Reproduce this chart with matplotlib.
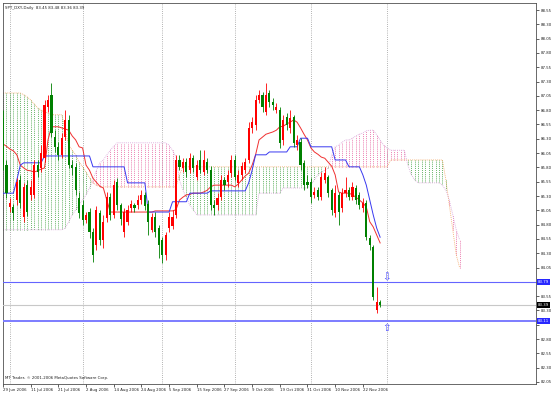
import numpy as np
import pandas as pd
import matplotlib
matplotlib.use("Agg")
from matplotlib import pyplot as plt

# Chart header and footer text
symbol = "SPT_DXY,Daily"
lastBar = "83.45 83.48 83.36 83.39"
copyrightText = "MT Trader, \u00a9 2001-2006 MetaQuotes Software Corp."
startDate = "2006-06-29"
arrowDate = "2006-12-01"

# Daily candles
opens = [86.66, 85.84, 85.11, 85.11, 85.23, 85.58, 84.93, 85.49, 85.32, 85.32,
         85.84, 85.79, 85.96, 86.86, 87.07, 86.33, 86.16, 86.02, 86.33, 86.63,
         85.84, 85.81, 85.27, 85.14, 84.88, 85.02, 84.67, 84.44, 85.00, 84.53,
         84.92, 85.28, 84.97, 85.54, 85.14, 84.67, 84.85, 85.09, 85.14, 85.14,
         85.23, 85.32, 85.16, 84.71, 84.93, 84.74, 84.53, 84.27, 84.74, 84.78,
         84.97, 85.93, 85.79, 85.89, 85.75, 85.96, 85.63, 85.93, 85.72, 85.89,
         85.75, 85.14, 85.14, 85.28, 85.58, 85.54, 85.70, 85.93, 85.53, 85.67,
         85.75, 85.93, 86.49, 86.54, 86.98, 87.07, 86.77, 87.10, 86.94, 86.80,
         86.80, 86.28, 86.68, 86.49, 86.68, 86.19, 86.24, 85.88, 85.54, 85.54,
         85.32, 85.40, 85.28, 85.58, 85.63, 85.40, 85.00, 85.32, 85.09, 85.35,
         85.40, 85.28, 85.44, 85.32, 85.09, 85.18, 84.57, 84.41, 83.31, 83.45]
highs = [86.80, 85.93, 85.27, 85.16, 85.62, 85.67, 85.53, 85.58, 85.58, 85.93,
         85.93, 86.19, 86.98, 87.07, 87.27, 86.45, 86.24, 86.40, 86.80, 86.72,
         85.93, 85.88, 85.37, 85.23, 85.02, 85.09, 84.74, 85.13, 85.06, 84.97,
         85.37, 85.35, 85.58, 85.62, 85.18, 85.09, 85.14, 85.23, 85.18, 85.32,
         85.40, 85.37, 85.23, 85.00, 85.02, 84.79, 84.58, 84.67, 85.02, 85.06,
         86.02, 86.02, 85.96, 85.96, 86.05, 86.02, 85.93, 86.10, 86.10, 85.96,
         85.82, 85.23, 85.35, 85.67, 85.63, 85.75, 86.02, 86.02, 85.75, 85.89,
         85.96, 86.59, 86.68, 87.07, 87.15, 87.12, 87.27, 87.15, 87.01, 86.93,
         86.86, 86.72, 86.75, 86.80, 86.72, 86.37, 86.31, 85.93, 85.67, 85.62,
         85.46, 85.46, 85.72, 85.81, 85.67, 85.44, 85.49, 85.37, 85.44, 85.63,
         85.46, 85.54, 85.49, 85.37, 85.27, 85.23, 84.62, 84.44, 83.71, 83.48]
lows = [85.75, 85.27, 85.02, 84.88, 85.14, 85.09, 84.85, 84.95, 85.23, 85.27,
        85.63, 85.72, 85.89, 86.77, 86.33, 86.07, 85.93, 85.96, 86.28, 85.79,
        85.67, 85.32, 84.92, 84.79, 84.83, 84.57, 84.15, 84.36, 84.44, 84.39,
        84.85, 84.88, 84.92, 85.06, 84.79, 84.58, 84.79, 85.02, 85.02, 85.07,
        85.16, 85.06, 84.62, 84.67, 84.58, 84.22, 84.13, 84.18, 84.67, 84.72,
        84.92, 85.75, 85.72, 85.63, 85.70, 85.72, 85.58, 85.70, 85.67, 85.70,
        85.06, 84.97, 85.06, 85.23, 85.40, 85.46, 85.63, 85.58, 85.46, 85.58,
        85.70, 85.88, 86.40, 86.45, 86.93, 86.77, 86.72, 86.86, 86.80, 86.75,
        86.14, 86.19, 86.45, 86.40, 86.16, 86.10, 85.75, 85.40, 85.44, 85.18,
        85.27, 85.23, 85.23, 85.53, 85.28, 84.97, 84.93, 84.79, 85.02, 85.28,
        85.23, 85.23, 85.16, 85.07, 85.02, 84.53, 84.36, 83.48, 83.26, 83.36]
closes = [85.84, 85.35, 85.18, 85.00, 85.54, 85.18, 85.46, 85.02, 85.46, 85.84,
          85.72, 86.05, 86.89, 86.98, 86.40, 86.16, 86.02, 86.31, 86.63, 85.84,
          85.79, 85.40, 85.00, 84.88, 84.97, 84.67, 84.27, 85.06, 84.53, 84.85,
          85.28, 84.97, 85.49, 85.14, 84.90, 85.02, 85.06, 85.16, 85.09, 85.23,
          85.32, 85.13, 84.85, 84.93, 84.67, 84.44, 84.27, 84.62, 84.93, 84.93,
          85.93, 85.81, 85.89, 85.72, 85.96, 85.79, 85.84, 85.75, 85.93, 85.75,
          85.14, 85.09, 85.27, 85.58, 85.49, 85.67, 85.93, 85.63, 85.67, 85.82,
          85.89, 86.49, 86.59, 86.98, 87.07, 86.86, 87.07, 86.94, 86.89, 86.86,
          86.23, 86.63, 86.54, 86.66, 86.23, 86.28, 85.84, 85.49, 85.49, 85.28,
          85.37, 85.28, 85.63, 85.70, 85.35, 85.06, 85.35, 85.02, 85.35, 85.40,
          85.28, 85.46, 85.23, 85.14, 85.18, 84.59, 84.44, 83.54, 83.45, 83.39]

# Ichimoku lines
tenkan = [86.21, 86.17, 86.12, 86.09, 86.02, 85.84, 85.79, 85.75, 85.74, 85.72,
          85.74, 85.77, 85.79, 86.28, 86.51, 86.51, 86.51, 86.49, 86.47, 86.45,
          86.35, 86.28, 86.16, 86.14, 85.84, 85.75, 85.61, 85.54, 85.47, 85.44,
          85.23, 85.02, 85.02, 85.02, 85.02, 85.02, 85.02, 85.02, 85.02, 85.02,
          85.02, 85.02, 85.02, 85.02, 85.04, 85.04, 85.04, 85.04, 85.04, 85.04,
          85.06, 85.23, 85.28, 85.32, 85.33, 85.35, 85.35, 85.35, 85.37, 85.40,
          85.46, 85.49, 85.49, 85.49, 85.49, 85.49, 85.49, 85.46, 85.51, 85.58,
          85.65, 85.70, 85.84, 86.02, 86.28, 86.33, 86.38, 86.40, 86.42, 86.45,
          86.51, 86.52, 86.56, 86.59, 86.63, 86.59, 86.49, 86.38, 86.28, 86.14,
          86.07, 86.03, 85.98, 85.96, 85.89, 85.82, 85.67, 85.37, 85.35, 85.35,
          85.35, 85.32, 85.28, 85.23, 85.18, 85.11, 84.85, 84.76, 84.62, 84.48]
kijun = [85.35, 85.35, 85.35, 85.35, 85.58, 85.84, 85.88, 85.88, 85.88, 85.88,
         85.88, 85.88, 86.00, 86.00, 86.00, 86.00, 86.00, 86.00, 86.00, 86.00,
         86.00, 86.00, 86.00, 86.00, 86.00, 86.00, 85.81, 85.81, 85.81, 85.81,
         85.81, 85.81, 85.81, 85.81, 85.81, 85.81, 85.53, 85.53, 85.53, 85.53,
         85.53, 85.53, 85.02, 85.02, 85.02, 85.02, 85.02, 85.02, 85.02, 85.20,
         85.20, 85.20, 85.20, 85.20, 85.35, 85.35, 85.35, 85.35, 85.35, 85.35,
         85.39, 85.39, 85.39, 85.39, 85.39, 85.39, 85.39, 85.39, 85.39, 85.39,
         85.39, 85.53, 85.75, 86.02, 86.02, 86.02, 86.02, 86.07, 86.07, 86.07,
         86.07, 86.07, 86.07, 86.16, 86.16, 86.16, 86.31, 86.31, 86.31, 86.16,
         86.16, 86.16, 86.16, 86.16, 86.16, 86.16, 85.93, 85.93, 85.93, 85.93,
         85.81, 85.81, 85.81, 85.81, 85.67, 85.49, 85.23, 84.97, 84.74, 84.58]
spanA = [87.10, 87.10, 87.10, 87.10, 87.10, 87.10, 87.07, 87.03, 86.98, 86.91,
         86.84, 86.80, 86.77, 86.75, 86.72, 86.72, 86.72, 86.72, 86.45, 86.19,
         86.10, 86.02, 85.89, 85.81, 85.72, 85.62, 85.53, 85.49, 85.46, 85.46,
         85.46, 85.46, 85.46, 85.46, 85.46, 85.46, 85.46, 85.46, 85.46, 85.46,
         85.46, 85.46, 85.46, 85.46, 85.46, 85.46, 85.46, 85.46, 85.46, 85.46,
         85.46, 85.67, 85.81, 85.81, 85.81, 85.81, 85.81, 85.81, 85.81, 85.81,
         85.81, 85.81, 85.81, 85.81, 85.81, 85.81, 85.81, 85.81, 85.81, 85.81,
         85.81, 85.81, 85.81, 85.81, 85.81, 85.81, 85.81, 85.81, 85.81, 85.81,
         85.81, 85.81, 85.81, 85.81, 85.81, 85.81, 85.81, 85.81, 85.81, 85.81,
         85.81, 85.81, 85.81, 85.81, 85.81, 85.81, 85.81, 85.81, 85.81, 85.81,
         85.81, 85.81, 85.81, 85.81, 85.81, 85.81, 85.81, 85.81, 85.81, 85.81,
         85.81, 85.81, 85.93, 85.93, 85.93, 85.93, 85.93, 85.93, 85.93, 85.93,
         85.93, 85.93, 85.93, 85.93, 85.93, 85.93, 85.93, 85.93, 85.58, 85.14,
         84.71, 84.27, 84.04]
spanB = [84.71, 84.71, 84.71, 84.71, 84.71, 84.71, 84.71, 84.71, 84.71, 84.71,
         84.71, 84.71, 84.71, 84.71, 84.71, 84.71, 84.71, 84.71, 84.74, 84.85,
         84.97, 85.06, 85.14, 85.23, 85.32, 85.44, 85.58, 85.75, 85.88, 85.93,
         86.02, 86.10, 86.17, 86.23, 86.23, 86.23, 86.23, 86.23, 86.23, 86.23,
         86.23, 86.23, 86.23, 86.23, 86.23, 86.23, 86.23, 86.23, 86.19, 86.10,
         85.98, 85.58, 85.40, 85.27, 85.14, 85.06, 84.97, 84.97, 84.97, 84.97,
         84.97, 84.97, 84.97, 84.97, 84.97, 84.97, 84.97, 84.97, 84.97, 84.97,
         84.97, 84.97, 84.97, 84.97, 85.35, 85.35, 85.35, 85.35, 85.35, 85.35,
         85.35, 85.44, 85.44, 85.44, 85.44, 85.44, 85.44, 85.44, 85.44, 85.49,
         85.58, 85.67, 85.72, 85.75, 85.79, 86.02, 86.16, 86.19, 86.24, 86.28,
         86.28, 86.31, 86.35, 86.38, 86.40, 86.44, 86.45, 86.45, 86.37, 86.28,
         86.19, 86.14, 86.10, 86.10, 86.10, 86.10, 86.10, 85.84, 85.67, 85.58,
         85.53, 85.53, 85.53, 85.53, 85.53, 85.53, 85.53, 85.49, 85.40, 85.23,
         84.97, 84.71, 84.53]

# Horizontal price levels and current bid
levels = [83.79, 83.11]
bid = 83.39

dates = pd.bdate_range(startDate, periods=len(spanA))
x = np.arange(len(opens))
xc = np.arange(len(spanA))
arrowIdx = int(np.where(dates == pd.Timestamp(arrowDate))[0][0])

fig = plt.figure(figsize=(5.53, 3.93), dpi=100)
ax = fig.add_axes([3 / 553, 9 / 393, 533 / 553, 381 / 393])
ax.set_xlim(0, 533 / 3.46)
ax.set_ylim(82.015, 88.673)

# Month separators (only up to the arrow bar, like the terminal)
monthStarts = np.where(np.diff(dates.month) != 0)[0] + 1
for m in monthStarts[monthStarts <= arrowIdx]:
    ax.axvline(m, color="#9a9a9a", linestyle=(0, (1, 1.6)), linewidth=0.6, zorder=1)

# Kumo cloud drawn as dotted histogram
cloudA = np.array(spanA)
cloudB = np.array(spanB)
cloudColors = np.where(cloudA >= cloudB, "#3a9d3a", "#e65c9c")
ax.vlines(xc, cloudA, cloudB, colors=cloudColors, linestyles=(0, (1, 1.3)), linewidth=0.6, zorder=2)
ax.plot(xc, cloudA, color="#f4a460", linestyle=(0, (1, 1.3)), linewidth=0.6, zorder=2)
ax.plot(xc, cloudB, color="#d8a0d8", linestyle=(0, (1, 1.3)), linewidth=0.6, zorder=2)

# Tenkan and Kijun
ax.plot(x, tenkan, color="#f03030", linewidth=0.7, zorder=3)
ax.plot(x, kijun, color="#3838f0", linewidth=0.7, zorder=3)

# Candles (up = red, down = green)
o = np.array(opens)
c = np.array(closes)
candleColors = np.where(c >= o, "#ff0000", "#008000")
ax.vlines(x, lows, highs, colors=candleColors, linewidth=0.6, zorder=4)
bodyBottom = np.minimum(o, c)
bodyHeight = np.maximum(np.abs(c - o), 0.012)
ax.bar(x, bodyHeight, bottom=bodyBottom, width=0.62, color=candleColors, linewidth=0, zorder=5)

# Horizontal lines
ax.axhline(levels[0], color="#6464ff", linewidth=0.8, zorder=3)
ax.axhline(levels[1], color="#7c7cff", linewidth=1.4, zorder=3)
ax.axhline(bid, color="#c8c8c8", linewidth=0.8, zorder=3)

# Arrow objects
ax.text(arrowIdx, levels[0] + 0.01, "\u21e9", ha="center", va="bottom", color="#4a4aff",
        fontsize=7.5, zorder=6)
ax.text(arrowIdx, levels[1] - 0.03, "\u21e7", ha="center", va="top", color="#4a4aff",
        fontsize=7.5, zorder=6)

# Price axis on the right; labels hidden under the boxed labels are left blank
ax.yaxis.tick_right()
yTicks = np.arange(82.05, 88.56, 0.25)
boxed = levels + [bid]
ax.set_yticks(yTicks)
ax.set_yticklabels(["" if min(abs(v - b) for b in boxed) < 0.07 else "%.2f" % v for v in yTicks])
ax.tick_params(axis="y", labelsize=2.8, length=2, width=0.5, pad=1.5, colors="#202020")

# Date axis
labelIdx = np.arange(0, len(opens) - 4, 8)
ax.set_xticks(labelIdx)
ax.set_xticklabels(["%d %s" % (dates[i].day, dates[i].strftime("%b %Y")) for i in labelIdx],
                   ha="left")
ax.tick_params(axis="x", labelsize=2.8, length=2, width=0.5, pad=1, colors="#202020")

for s in ax.spines.values():
    s.set_color("#505050")
    s.set_linewidth(0.6)

# Boxed labels for levels and bid
for lv in levels:
    ax.text(1.004, lv, "%.2f" % lv, transform=ax.get_yaxis_transform(), ha="left", va="center",
            fontsize=2.8, color="white", zorder=7,
            bbox=dict(boxstyle="square,pad=0.25", fc="#2828ff", ec="none"))
ax.text(1.004, bid, "%.2f" % bid, transform=ax.get_yaxis_transform(), ha="left", va="center",
        fontsize=2.8, color="white", zorder=7,
        bbox=dict(boxstyle="square,pad=0.25", fc="black", ec="none"))

fig.text(5 / 553, 1 - 8 / 393, symbol + "  " + lastBar, fontsize=2.8, va="center", color="#202020")
fig.text(5 / 553, 1 - 378 / 393, copyrightText, fontsize=2.8, va="center", color="#202020")

fig.savefig("out.png", dpi=100)
